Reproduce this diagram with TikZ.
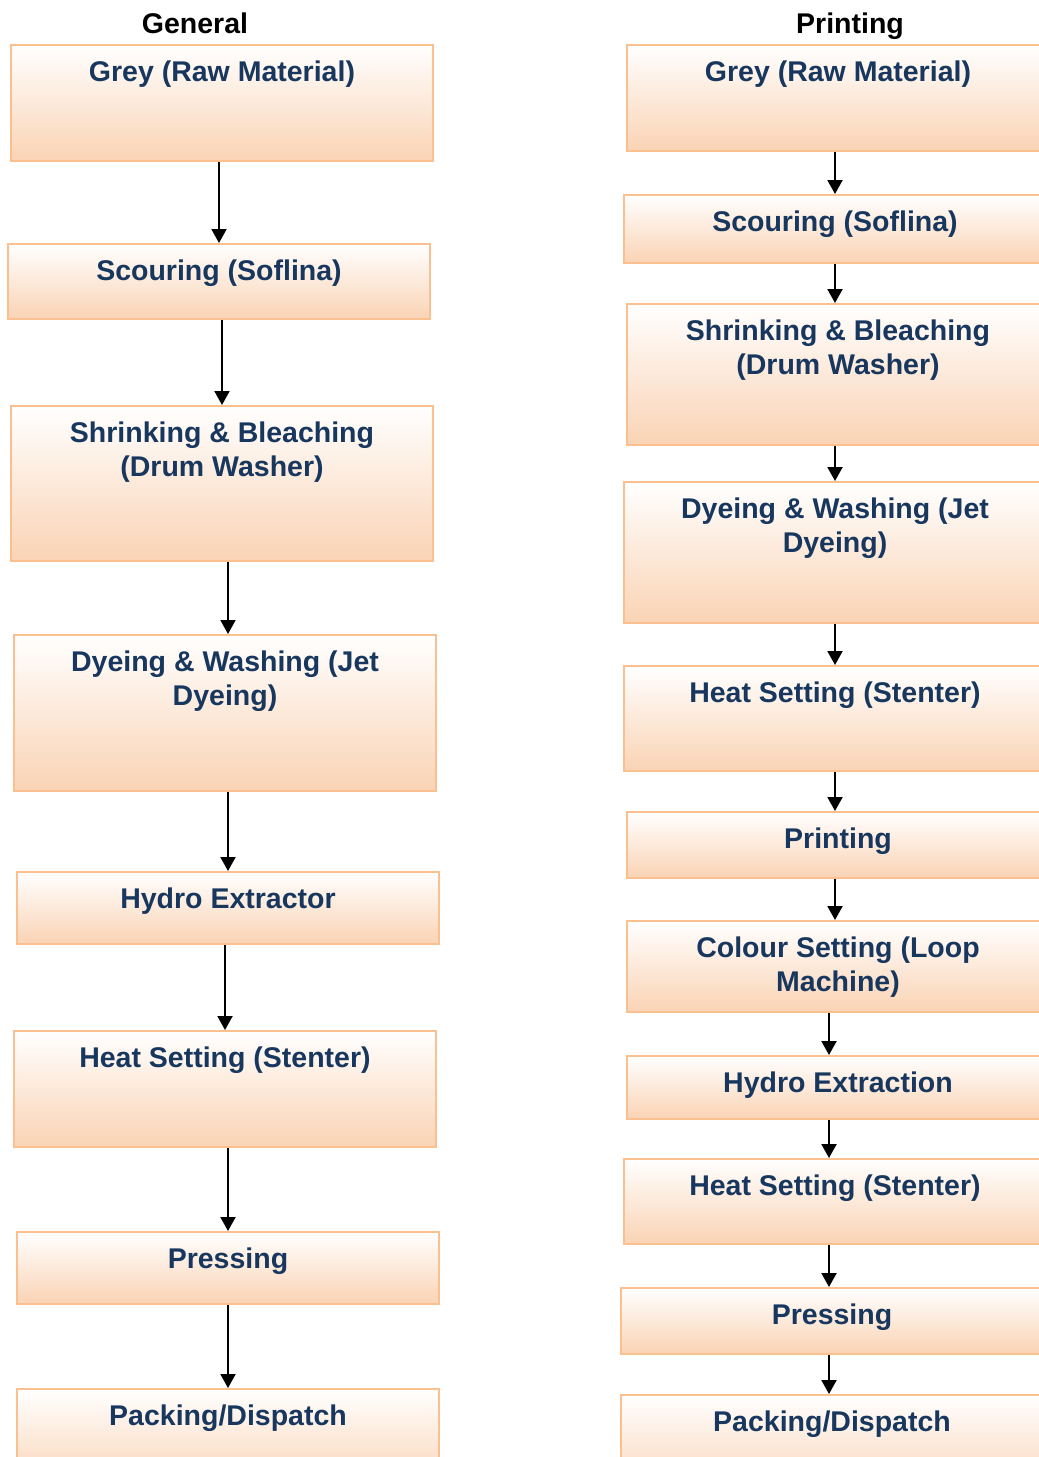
\documentclass[tikz,border=0pt]{standalone}
\usepackage{fontspec}
\setmainfont{Liberation Sans}
\usetikzlibrary{arrows.meta}
\definecolor{boxline}{HTML}{FAC08F}
\definecolor{peach}{HTML}{FAD3B4}
\definecolor{navy}{HTML}{17375E}
\newcommand\bt[2]{\parbox[t][#1pt][t]{422pt}{\centering\rule{0pt}{36pt}#2}}
\tikzset{
  stepbox/.style={draw=boxline, line width=2pt, top color=white, bottom color=peach,
    anchor=north west, inner sep=0pt, text=navy,
    font=\fontsize{28.5}{34}\selectfont\bfseries},
  head/.style={anchor=base, inner sep=0pt, font=\fontsize{28.5}{34}\selectfont\bfseries},
  arr/.style={line width=2pt, -{Triangle[length=14pt,width=15pt]}}
}
\begin{document}
\begin{tikzpicture}[x=1pt,y=-1pt]
\useasboundingbox (0,0) rectangle (1039,1457);
\clip (0,0) rectangle (1039,1457);
\fill[white] (0,0) rectangle (1039,1457);
% headings
\node[head] (hg) at (195,33) {General};
\node[head] (hp) at (850,33) {Printing};
% left column
\node[stepbox] (l1) at (10,44) {\bt{116}{Grey (Raw Material)}};
\node[stepbox] (l2) at (7,243) {\bt{75}{Scouring (Soflina)}};
\node[stepbox] (l3) at (10,405) {\bt{155}{Shrinking \& Bleaching\\(Drum Washer)}};
\node[stepbox] (l4) at (13,634) {\bt{156}{Dyeing \& Washing (Jet\\Dyeing)}};
\node[stepbox] (l5) at (16,871) {\bt{72}{Hydro Extractor}};
\node[stepbox] (l6) at (13,1030) {\bt{116}{Heat Setting (Stenter)}};
\node[stepbox] (l7) at (16,1231) {\bt{72}{Pressing}};
\node[stepbox] (l8) at (16,1388) {\bt{100}{Packing/Dispatch}};
% right column
\node[stepbox] (r1) at (626,44) {\bt{106}{Grey (Raw Material)}};
\node[stepbox] (r2) at (623,194) {\bt{68}{Scouring (Soflina)}};
\node[stepbox] (r3) at (626,303) {\bt{141}{Shrinking \& Bleaching\\(Drum Washer)}};
\node[stepbox] (r4) at (623,481) {\bt{141}{Dyeing \& Washing (Jet\\Dyeing)}};
\node[stepbox] (r5) at (623,665) {\bt{105}{Heat Setting (Stenter)}};
\node[stepbox] (r6) at (626,811) {\bt{66}{Printing}};
\node[stepbox] (r7) at (626,920) {\bt{91}{Colour Setting (Loop\\Machine)}};
\node[stepbox] (r8) at (626,1055) {\bt{63}{Hydro Extraction}};
\node[stepbox] (r9) at (623,1158) {\bt{85}{Heat Setting (Stenter)}};
\node[stepbox] (r10) at (620,1287) {\bt{66}{Pressing}};
\node[stepbox] (r11) at (620,1394) {\bt{100}{Packing/Dispatch}};
% left arrows
\draw[arr] (l1.south -| l2.north) -- (l2.north);
\draw[arr] (l2.south -| l3.north) -- (l3.north);
\draw[arr] ([xshift=3pt]l3.south -| l4.north) -- ([xshift=3pt]l4.north);
\draw[arr] (l4.south -| l5.north) -- (l5.north);
\draw[arr] (l5.south -| l6.north) -- (l6.north);
\draw[arr] (l6.south -| l7.north) -- (l7.north);
\draw[arr] (l7.south -| l8.north) -- (l8.north);
% right arrows
\draw[arr] (r1.south -| r2.north) -- (r2.north);
\draw[arr] (r2.south -| r2.north) -- (r3.north -| r2.north);
\draw[arr] (r3.south -| r4.north) -- (r4.north);
\draw[arr] (r4.south -| r5.north) -- (r5.north);
\draw[arr] (r5.south -| r5.north) -- (r6.north -| r5.north);
\draw[arr] ([xshift=-3pt]r6.south) -- ([xshift=-3pt]r7.north);
\draw[arr] ([xshift=-9pt]r7.south) -- ([xshift=-9pt]r8.north);
\draw[arr] ([xshift=-9pt]r8.south) -- ([xshift=-6pt]r9.north);
\draw[arr] ([xshift=-3pt]r9.south -| r10.north) -- ([xshift=-3pt]r10.north);
\draw[arr] ([xshift=-3pt]r10.south -| r11.north) -- ([xshift=-3pt]r11.north);
\end{tikzpicture}
\end{document}
